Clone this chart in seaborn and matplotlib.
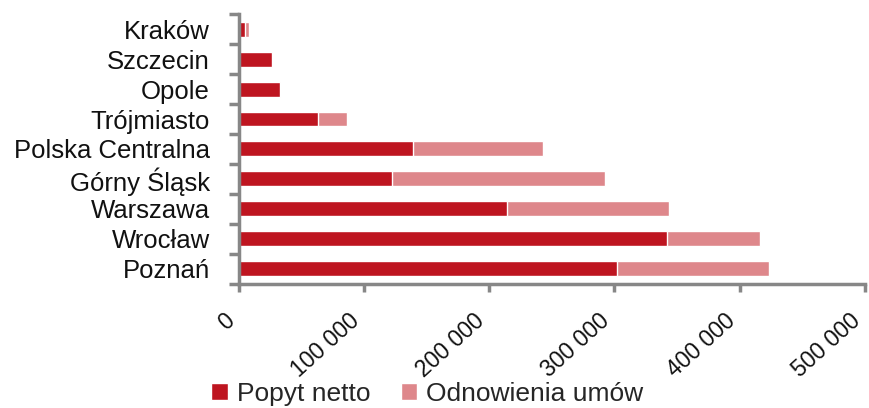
import numpy as np
import pandas as pd
import matplotlib
matplotlib.use("Agg")
import matplotlib.pyplot as plt
import seaborn as sns
from matplotlib.patches import Patch
from matplotlib.ticker import FuncFormatter, FixedLocator


cities = ["Kraków", "Szczecin", "Opole", "Trójmiasto", "Polska Centralna",
          "Górny Śląsk", "Warszawa", "Wrocław", "Poznań"]
popyt_netto = [4500, 26500, 32700, 62800, 138800, 122600, 214000, 342000, 301700]
odnowienia = [3700, 0, 0, 23200, 104200, 170100, 129800, 74000, 121900]

dark = "#BE1520"
light = "#DE878B"
axis_grey = "#878787"

df = pd.DataFrame({"miasto": cities, "netto": popyt_netto, "odnowienia": odnowienia})
df["razem"] = df["netto"] + df["odnowienia"]

sns.set_style("white")
plt.rcParams["font.family"] = ["Liberation Sans", "DejaVu Sans"]

fig = plt.figure(figsize=(8.69, 4.08), dpi=100)
ax = fig.add_axes([0.275, 0.305, 0.72, 0.66])

# stacked look: total in light colour, net demand drawn on top
sns.barplot(data=df, y="miasto", x="razem", color=light, width=0.5,
            saturation=1, ax=ax, orient="h")
sns.barplot(data=df, y="miasto", x="netto", color=dark, width=0.5,
            saturation=1, ax=ax, orient="h")

ax.set_xlim(0, 500000)
ax.set_ylim(8.5, -0.5)
ax.set_xlabel("")
ax.set_ylabel("")
ax.set_xticks(np.arange(0, 500001, 100000))
ax.xaxis.set_major_formatter(FuncFormatter(lambda v, p: f"{int(v):,}".replace(",", " ")))

ax.yaxis.set_minor_locator(FixedLocator(np.arange(-0.5, 9, 1)))
ax.tick_params(axis="y", which="major", left=False, length=0, labelsize=18.5,
               pad=21, labelcolor="#111111")
ax.tick_params(axis="y", which="minor", left=True, length=7, width=2.5,
               color=axis_grey, direction="out")
ax.tick_params(axis="x", which="major", bottom=True, length=6, width=2.5,
               color=axis_grey, direction="out", pad=25, labelcolor="#111111",
               labelsize=16.5)
for lab in ax.get_xticklabels():
    lab.set_rotation(42)
    lab.set_ha("right")
    lab.set_va("bottom")
    lab.set_rotation_mode("anchor")

sns.despine(ax=ax, top=True, right=True)
for s in ["left", "bottom"]:
    ax.spines[s].set_color(axis_grey)
    ax.spines[s].set_linewidth(2.5)

handles = [Patch(facecolor=dark, label="Popyt netto"),
           Patch(facecolor=light, label="Odnowienia umów")]
fig.legend(handles=handles, loc="lower left", bbox_to_anchor=(0.243, 0.005),
           ncol=2, frameon=False, fontsize=19, handlelength=0.62, handleheight=0.62,
           handletextpad=0.35, columnspacing=1.15, borderpad=0, borderaxespad=0)

fig.savefig("out.png", dpi=100)
